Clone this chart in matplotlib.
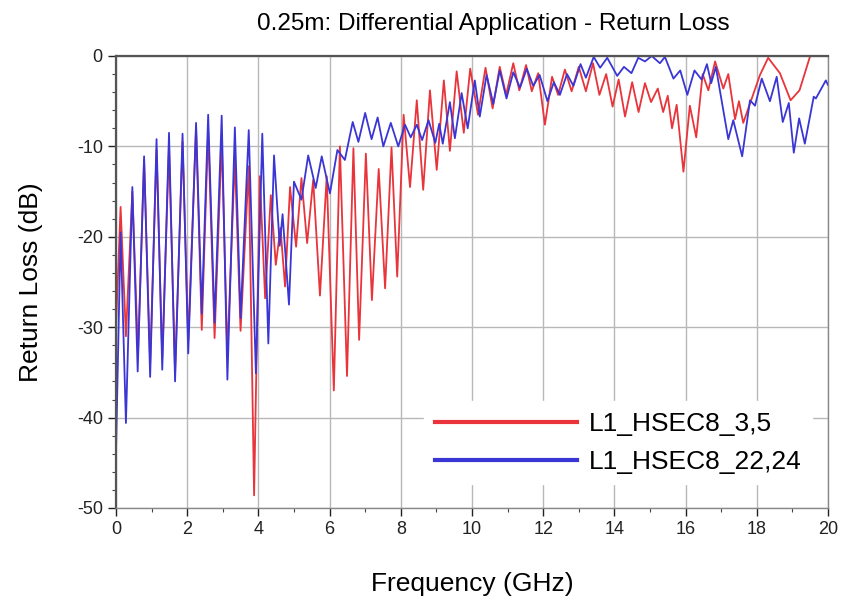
import matplotlib.pyplot as plt
from matplotlib.ticker import MultipleLocator

# L1_HSEC8_3,5 (red) - peaks and dips
red_f = [0.0, 0.13, 0.28, 0.46, 0.62, 0.79, 0.96, 1.14, 1.30, 1.49, 1.66, 1.87, 2.03,
         2.25, 2.41, 2.59, 2.77, 2.97, 3.13, 3.34, 3.50, 3.73, 3.88, 4.04, 4.19, 4.35,
         4.49, 4.62, 4.75, 4.89, 5.06, 5.21, 5.37, 5.54, 5.73, 5.92, 6.12, 6.29, 6.49,
         6.67, 6.83, 7.02, 7.19, 7.38, 7.56, 7.74, 7.90, 8.08, 8.26, 8.45, 8.63, 8.82,
         9.01, 9.21, 9.38, 9.57, 9.77, 9.95, 10.17, 10.38, 10.58, 10.78, 10.96, 11.16,
         11.33, 11.52, 11.68, 11.86, 12.05, 12.25, 12.42, 12.61, 12.80, 13.0, 13.2,
         13.4, 13.58, 13.77, 13.95, 14.12, 14.3, 14.5, 14.68, 14.86, 15.03, 15.22,
         15.37, 15.5, 15.62, 15.75, 15.94, 16.12, 16.3, 16.48, 16.64, 16.83, 17.06,
         17.2, 17.39, 17.5, 17.62, 18.09, 18.32, 18.65, 18.95, 19.2, 19.5, 20.0]
red_db = [-30, -16.7, -31, -15.0, -33, -11.5, -34, -10.4, -33.5, -10.0, -35, -9.5, -31.5,
          -7.9, -30.3, -8.2, -31.2, -9.3, -33, -11.3, -30.4, -12.2, -48.6, -13.3, -26.8, -15.4,
          -23.1, -19.0, -25.5, -14.5, -21.1, -13.5, -20.7, -13.7, -26.5, -13.3, -37.0, -10.0, -35.4,
          -10.2, -31.4, -10.8, -27.0, -12.5, -25.7, -10.1, -24.4, -6.5, -14.5, -4.9, -14.8, -3.8,
          -12.6, -2.7, -10.5, -1.7, -8.5, -1.4, -6.5, -1.3, -5.8, -1.2, -4.3, -0.8,
          -3.8, -1.0, -3.9, -1.9, -7.6, -2.3, -4.3, -1.5, -3.9, -1.2, -3.9,
          -0.8, -4.3, -2.0, -5.6, -2.6, -6.7, -2.9, -6.2, -3.0, -5.1, -3.6,
          -6.2, -4.4, -8.0, -5.4, -12.8, -5.5, -9.0, -2.0, -3.8, -0.6, -3.6,
          -2.0, -7.0, -5.0, -7.4, -2.1, -0.2, -1.9, -4.9, -3.8, 0.0, 0.0]

# L1_HSEC8_22,24 (blue)
blue_f = [0.0, 0.13, 0.28, 0.46, 0.61, 0.79, 0.96, 1.14, 1.30, 1.49, 1.66, 1.87, 2.03,
          2.25, 2.41, 2.59, 2.77, 2.97, 3.13, 3.34, 3.50, 3.73, 3.93, 4.11, 4.28, 4.44,
          4.60, 4.68, 4.86, 5.0, 5.21, 5.40, 5.61, 5.78, 6.01, 6.22, 6.43, 6.65, 6.81,
          7.0, 7.18, 7.35, 7.51, 7.72, 7.93, 8.12, 8.28, 8.45, 8.60, 8.78, 8.97, 9.08,
          9.18, 9.38, 9.52, 9.71, 9.88, 10.08, 10.22, 10.41, 10.6, 10.78, 10.97, 11.16,
          11.35, 11.54, 11.72, 11.9, 12.12, 12.3, 12.47, 12.67, 12.85, 13.05, 13.2,
          13.42, 13.6, 13.8, 14.08, 14.27, 14.48, 14.67, 14.86, 15.05, 15.28, 15.42,
          15.66, 15.85, 16.05, 16.25, 16.45, 16.6, 16.72, 16.85, 17.2, 17.34, 17.59,
          17.81, 17.95, 18.14, 18.37, 18.56, 18.73, 18.9, 19.04, 19.19, 19.35, 19.6,
          19.66, 19.94, 20.0]
blue_db = [-44, -19.5, -40.6, -14.5, -34.9, -11.1, -35.5, -9.2, -34.7, -8.5, -36.0, -8.6, -32.9,
           -7.4, -28.5, -6.5, -29.5, -6.6, -35.8, -7.9, -29.0, -8.2, -35.1, -8.6, -31.8, -11.0,
           -21.0, -17.5, -27.5, -13.9, -15.9, -11.0, -14.6, -11.1, -15.2, -10.4, -11.5, -7.3, -9.5,
           -6.3, -9.2, -6.8, -10.0, -7.4, -10.0, -7.6, -9.0, -7.6, -9.3, -7.1, -9.6, -7.5,
           -9.7, -5.1, -9.1, -4.1, -8.0, -2.7, -6.7, -2.1, -5.3, -1.6, -4.7, -1.8,
           -3.5, -1.4, -3.3, -2.1, -5.0, -2.9, -4.3, -2.0, -3.3, -0.9, -2.4,
           -0.1, -1.3, -0.2, -2.2, -1.2, -1.9, -0.2, -0.6, 0.0, -0.8, -0.1,
           -2.5, -1.6, -4.3, -1.6, -2.6, -0.9, -3.0, -1.2, -9.2, -7.1, -11.1,
           -4.9, -5.5, -2.5, -5.0, -2.3, -7.3, -5.2, -10.7, -6.9, -9.7, -4.5,
           -4.7, -2.7, -3.2]

x_ticks = [0, 2, 4, 6, 8, 10, 12, 14, 16, 18, 20]
y_ticks = [-50, -40, -30, -20, -10, 0]

plt.rcParams['font.family'] = ['Liberation Sans', 'DejaVu Sans']
plt.rcParams['axes.unicode_minus'] = False

fig = plt.figure(figsize=(8.44, 6.08), dpi=100)
ax = fig.add_axes([0.1374, 0.1645, 0.8436, 0.7434])

ax.plot(red_f, red_db, color='#e8343a', lw=1.3, label='L1_HSEC8_3,5')
ax.plot(blue_f, blue_db, color='#3a36d6', lw=1.3, label='L1_HSEC8_22,24')

ax.set_xlim(0, 20)
ax.set_ylim(-50, 0)
ax.set_xticks(x_ticks)
ax.set_yticks(y_ticks)
ax.xaxis.set_minor_locator(MultipleLocator(1))
ax.yaxis.set_minor_locator(MultipleLocator(2))
ax.tick_params(which='major', direction='out', length=6, width=1, labelsize=13, colors='#222222')
ax.tick_params(which='minor', direction='out', length=3, width=0.8, colors='#444444')
ax.grid(True, which='major', color='#b8b8b8', lw=1)

for side in ['top', 'left']:
    ax.spines[side].set_linewidth(1.6)
    ax.spines[side].set_color('#555555')
for side in ['bottom', 'right']:
    ax.spines[side].set_linewidth(1.0)
    ax.spines[side].set_color('#888888')

ax.set_xlabel('Frequency (GHz)', fontsize=19, labelpad=24)
ax.set_ylabel('Return Loss (dB)', fontsize=19, labelpad=24)
ax.set_title('0.25m: Differential Application - Return Loss', fontsize=17.5, pad=19, x=0.53)

leg = ax.legend(loc='upper left', bbox_to_anchor=(0.433, 0.236), frameon=True, fontsize=19,
                handlelength=5.4, handletextpad=0.42, labelspacing=0.53,
                borderaxespad=0.0, borderpad=0.4)
leg.get_frame().set_edgecolor('white')
leg.get_frame().set_facecolor('white')
leg.get_frame().set_alpha(1.0)
for line in leg.get_lines():
    line.set_linewidth(3)

fig.savefig('out.png', dpi=100)
